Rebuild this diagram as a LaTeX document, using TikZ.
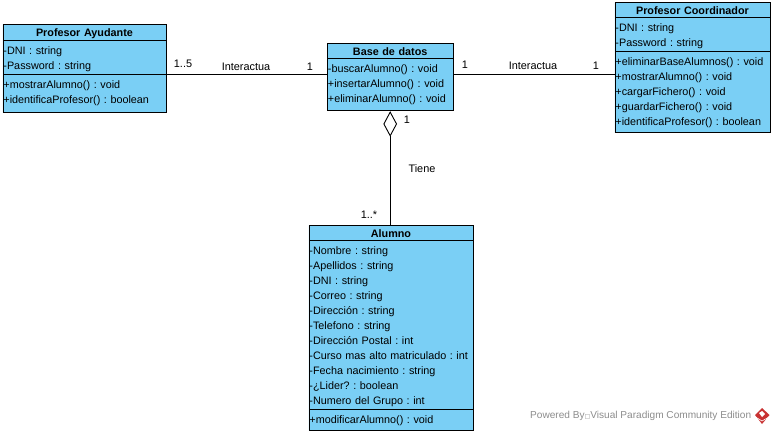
\documentclass[tikz,border=0pt]{standalone}
\usepackage{fontspec}
\setmainfont{Liberation Sans}
\newfontfamily\symfont{DejaVu Sans}
\usetikzlibrary{shapes.multipart}
\usetikzlibrary{shapes.geometric}
\usetikzlibrary{positioning}
\definecolor{clasefill}{RGB}{122,207,245}
\definecolor{marca}{RGB}{140,140,140}
\definecolor{logored}{RGB}{200,50,50}
\newcommand{\fila}[1]{\rule[-3pt]{0pt}{15pt}#1\\}
\newcommand{\ultima}[2]{\rule{0pt}{12pt}\rule[-#1pt]{0pt}{#1pt}#2}
\newcommand{\titulo}[1]{\hfill\rule[-1.5pt]{0pt}{11pt}\textbf{#1}\hfill\null}
\tikzset{
  clase/.style = {rectangle split, rectangle split parts=3, draw=black, fill=clasefill, line width=0.9pt,
    anchor=north west, inner xsep=0.5pt, inner ysep=1.7pt, align=left, font=\fontsize{10.8}{15}\selectfont\frenchspacing},% clase UML
  clase2/.style = {clase, rectangle split parts=2},
  etiqueta/.style = {inner sep=0pt, font=\fontsize{10.9}{12}\selectfont},
  enlace/.style = {line width=0.9pt},
}
\begin{document}
\begin{tikzpicture}[x=1pt,y=-1pt]
\useasboundingbox (0,0) rectangle (774,433);
\node [clase, text width=162pt] (ayudante) at (2.5,24) {\titulo{Profesor Ayudante}
  \nodepart{two}\fila{-DNI : string}\ultima{3}{-Password : string}
  \nodepart{three}\fila{+mostrarAlumno() : void}\ultima{6.5}{+identificaProfesor() : boolean}};
\node [clase2, text width=124.5pt] (base) at (327,43) {\titulo{Base de datos}
  \nodepart{two}\fila{-buscarAlumno() : void}\fila{+insertarAlumno() : void}\ultima{5.5}{+eliminarAlumno() : void}};
\node [clase, text width=154pt] (coordinador) at (614.5,2) {\titulo{Profesor Coordinador}
  \nodepart{two}\fila{-DNI : string}\ultima{2.5}{-Password : string}
  \nodepart{three}\fila{+eliminarBaseAlumnos() : void}\fila{+mostrarAlumno() : void}\fila{+cargarFichero() : void}\fila{+guardarFichero() : void}\ultima{5}{+identificaProfesor() : boolean}};
\node [clase, text width=163pt] (alumno) at (308.5,225) {\titulo{Alumno}
  \nodepart{two}\fila{-Nombre : string}\fila{-Apellidos : string}\fila{-DNI : string}\fila{-Correo : string}\fila{-Dirección : string}\fila{-Telefono : string}\fila{-Dirección Postal : int}\fila{-Curso mas alto matriculado : int}\fila{-Fecha nacimiento : string}\fila{-¿Lider? : boolean}\ultima{2.5}{-Numero del Grupo : int}
  \nodepart{three}\ultima{4.5}{+modificarAlumno() : void}};
\node [diamond, draw=black, fill=white, line width=0.9pt, minimum width=13pt, minimum height=24pt, inner sep=0pt,
  below=0.5pt of base] (rombo) {};
% asociaciones
\draw [enlace] (ayudante.two split east) -- (ayudante.two split east -| base.west);
\draw [enlace] (base.east |- ayudante.two split east) -- (coordinador.west |- ayudante.two split east);
\draw [enlace] (rombo.south) -- (rombo.south |- alumno.north);
\node [etiqueta] (mult1) at (183,64) {1..5};
\node [etiqueta] (rol1) at (246,67) {Interactua};
\node [etiqueta] (mult2) at (310,67) {1};
\node [etiqueta] (mult3) at (465,65) {1};
\node [etiqueta] (rol2) at (533,66) {Interactua};
\node [etiqueta] (mult4) at (596,66) {1};
\node [etiqueta] (mult5) at (407,120) {1};
\node [etiqueta] (rol3) at (422,169) {Tiene};
\node [etiqueta] (mult6) at (369,215) {1..*};
\node [etiqueta, font=\fontsize{10.1}{12}\selectfont, text=marca, anchor=west] (marcaagua) at (530,416) {Powered By{\symfont\fontsize{6}{6}\selectfont □}Visual Paradigm Community Edition};
% logo
\fill [logored] (762,408) -- (769.5,415) -- (762,424) -- (755,415) -- cycle;
\fill [white] (759,413) -- (762,411) -- (765,414) -- (762,417) -- cycle;
\draw [white, line width=0.6pt] (755.5,417) -- (762,421) -- (769,417);
\end{tikzpicture}
\end{document}
